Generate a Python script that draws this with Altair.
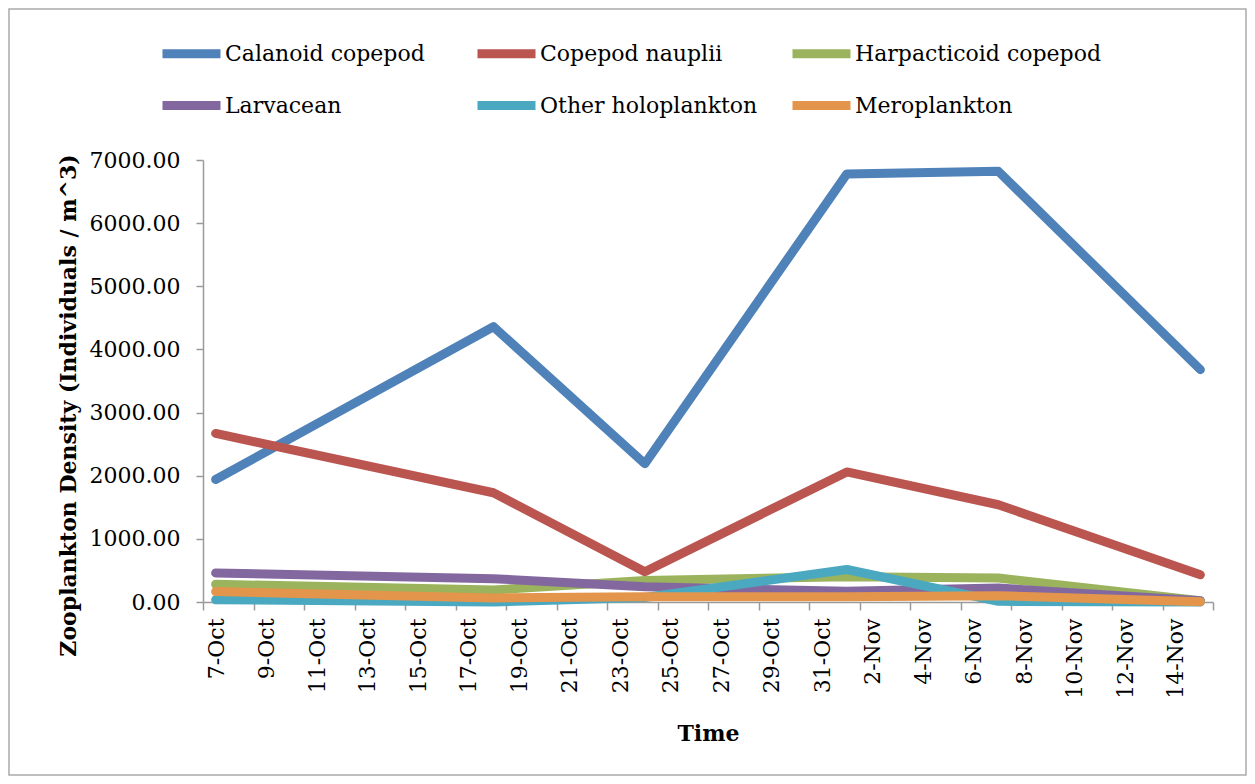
import json
import altair as alt
import pandas as pd

# ---- data ----
sample_dates = ["7-Oct", "18-Oct", "24-Oct", "1-Nov", "7-Nov", "15-Nov"]
series_names = ["Calanoid copepod", "Copepod nauplii", "Harpacticoid copepod",
                "Larvacean", "Other holoplankton", "Meroplankton"]
calanoid = [1940, 4360, 2190, 6780, 6820, 3680]
nauplii = [2670, 1730, 480, 2060, 1540, 430]
harpacticoid = [280, 190, 340, 400, 380, 20]
larvacean = [460, 370, 240, 170, 220, 20]
other_holo = [35, 0, 70, 515, 10, 0]
meroplankton = [165, 65, 85, 85, 100, 5]
tick_labels = ["7-Oct", "9-Oct", "11-Oct", "13-Oct", "15-Oct", "17-Oct", "19-Oct",
               "21-Oct", "23-Oct", "25-Oct", "27-Oct", "29-Oct", "31-Oct", "2-Nov",
               "4-Nov", "6-Nov", "8-Nov", "10-Nov", "12-Nov", "14-Nov"]
y_ticks = [0, 1000, 2000, 3000, 4000, 5000, 6000, 7000]
colors = ["#4F82B8", "#BA5550", "#9AB35C", "#8368A0", "#4AA9C0", "#E3954B"]

values = [calanoid, nauplii, harpacticoid, larvacean, other_holo, meroplankton]
start = pd.to_datetime("7-Oct-2013", format="%d-%b-%Y")
days = [(pd.to_datetime(d + "-2013", format="%d-%b-%Y") - start).days for d in sample_dates]

rows = []
for name, vals in zip(series_names, values):
    for d, v in zip(days, vals):
        rows.append({"series": name, "day": d, "density": v})
df = pd.DataFrame(rows)

FONT = "DejaVu Serif"
n_days = 40
x_tick_vals = [-0.5 + 2 * k for k in range(n_days // 2 + 1)]
label_expr = json.dumps(tick_labels) + "[round((datum.value + 0.5) / 2)] || ''"

lines = alt.Chart(df).mark_line(strokeWidth=9, strokeCap="round", strokeJoin="round").encode(
    x=alt.X("day:Q",
            scale=alt.Scale(domain=[-0.5, n_days - 0.5], nice=False, zero=False),
            axis=alt.Axis(values=x_tick_vals, labelExpr=label_expr, labelAngle=270,
                          labelAlign="right", labelBaseline="middle", labelOffset=13,
                          labelFlush=False, labelOverlap=False, labelPadding=8,
                          tickSize=8, grid=False, title="Time",
                          titleX=505, titleY=131, titleBaseline="middle",
                          titleAlign="center")),
    y=alt.Y("density:Q",
            scale=alt.Scale(domain=[0, 7000], nice=False),
            axis=alt.Axis(values=y_ticks, format=".2f", grid=False, tickSize=7,
                          labelPadding=16,
                          title="Zooplankton Density (Individuals / m^3)",
                          titleAngle=270, titleX=-135, titleY=245,
                          titleBaseline="middle", titleAlign="center")),
    color=alt.Color("series:N",
                    scale=alt.Scale(domain=series_names, range=colors),
                    sort=series_names,
                    legend=alt.Legend(title=None, orient="none", legendX=-45, legendY=-140,
                                      direction="horizontal",
                                      columns=3, gridAlign="all", columnPadding=-12,
                                      rowPadding=-13, symbolType="stroke",
                                      symbolSize=3364, symbolStrokeWidth=9,
                                      labelOffset=0, labelFontSize=22, labelFont=FONT,
                                      labelLimit=500,
                                      labelColor="#000000", padding=0)),
)

border = alt.Chart(pd.DataFrame({"b": [0]})).mark_rect(
    fill="white", fillOpacity=0, stroke="#ababab", strokeWidth=1.5
).encode(
    x=alt.value(-194), x2=alt.value(1043), y=alt.value(-151), y2=alt.value(615)
)

chart = alt.layer(border, lines).properties(
    width=1010, height=442,
    autosize=alt.AutoSizeParams(type="none"),
    padding={"left": 195, "top": 152, "right": 34, "bottom": 174},
    background="white",
).configure_view(stroke=None).configure_axis(
    labelFont=FONT, labelFontSize=22, labelColor="#000000",
    titleFont=FONT, titleFontSize=22, titleFontWeight="bold", titleColor="#000000",
    domainColor="#9a9a9a", domainWidth=1.5, tickColor="#9a9a9a", tickWidth=1.5,
)

chart.save("out.html", embed_options={"renderer": "svg", "actions": False})
